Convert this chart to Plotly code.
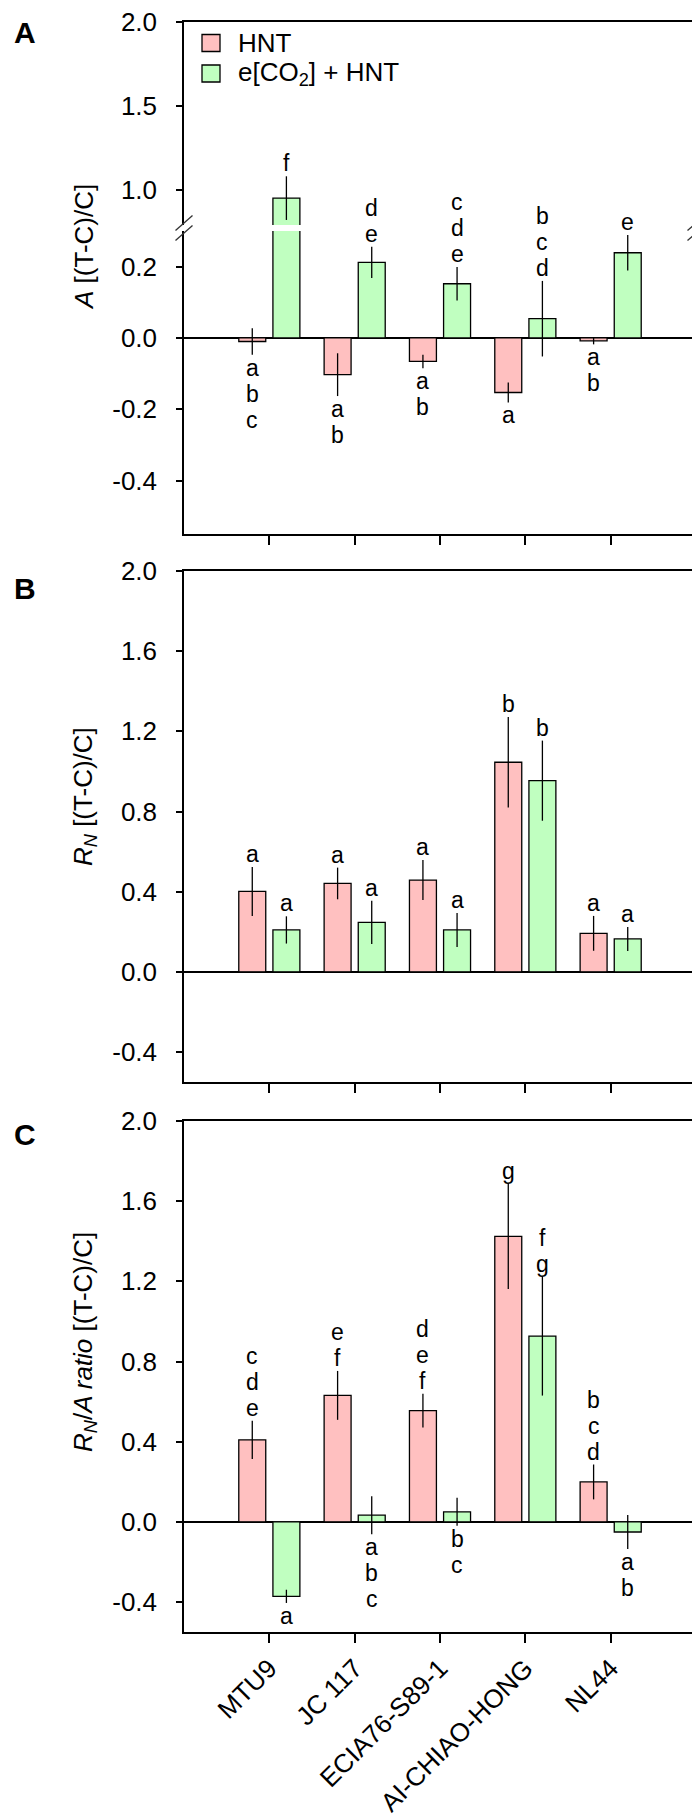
import numpy as np
import plotly.graph_objects as go

# ---------------- data ----------------
cultivars = ["MTU9", "JC 117", "ECIA76-S89-1", "AI-CHIAO-HONG", "NL44"]
series_names = ["HNT", "e[CO<sub>2</sub>] + HNT"]
series_colors = ["#FFC0C0", "#C0FFC0"]

# Panel A : A [(T-C)/C]
a_hnt = [-0.010, -0.103, -0.066, -0.153, -0.008]
a_hnt_err = [0.037, 0.060, 0.019, 0.028, 0.010]
a_co2 = [0.952, 0.212, 0.152, 0.054, 0.239]
a_co2_err = [0.130, 0.044, 0.047, 0.106, 0.050]
a_hnt_letters = ["abc", "ab", "ab", "a", "ab"]
a_co2_letters = ["f", "de", "cde", "bcd", "e"]
a_hnt_sides = ["below", "below", "below", "below", "below"]
a_co2_sides = ["above", "above", "above", "above", "above"]

# Panel B : RN [(T-C)/C]
b_hnt = [0.401, 0.441, 0.458, 1.046, 0.192]
b_hnt_err = [0.122, 0.079, 0.100, 0.226, 0.087]
b_co2 = [0.209, 0.247, 0.209, 0.954, 0.164]
b_co2_err = [0.068, 0.108, 0.085, 0.200, 0.060]
b_hnt_letters = ["a", "a", "a", "b", "a"]
b_co2_letters = ["a", "a", "a", "b", "a"]
b_hnt_sides = ["above"] * 5
b_co2_sides = ["above"] * 5

# Panel C : RN/A ratio [(T-C)/C]
c_hnt = [0.409, 0.631, 0.555, 1.425, 0.199]
c_hnt_err = [0.096, 0.122, 0.084, 0.263, 0.087]
c_co2 = [-0.372, 0.033, 0.050, 0.927, -0.051]
c_co2_err = [0.033, 0.095, 0.070, 0.297, 0.085]
c_hnt_letters = ["cde", "ef", "def", "g", "bcd"]
c_co2_letters = ["a", "abc", "bc", "fg", "ab"]
c_hnt_sides = ["above"] * 5
c_co2_sides = ["below", "below", "below", "above", "below"]

# tick values / labels
a_up_ticks = [1.0, 1.5, 2.0]
a_up_ticktext = ["1.0", "1.5", "2.0"]
a_lo_ticks = [-0.4, -0.2, 0.0, 0.2]
a_lo_ticktext = ["-0.4", "-0.2", "0.0", "0.2"]
bc_ticks = [-0.4, 0.0, 0.4, 0.8, 1.2, 1.6, 2.0]
bc_ticktext = ["-0.4", "0.0", "0.4", "0.8", "1.2", "1.6", "2.0"]

axis_titles = [
    "<i>A</i> [(T-C)/C]",
    "<i>R<sub>N</sub></i> [(T-C)/C]",
    "<i>R<sub>N</sub></i>/<i>A ratio</i> [(T-C)/C]",
]
panel_labels = ["A", "B", "C"]

# ---------------- layout geometry (pixels) ----------------
W, H = 700, 1817
FONT = "Liberation Sans, Arial, sans-serif"
FS = 26
LETTER_FS = 23
LETTER_STEP = 26
LETTER_GAP = 13


def fx(p):
    return p / W


def fy(p):
    return 1 - p / H


X0, X1 = 176, 688
xdom = [fx(X0), fx(X1)]
dom_px = {
    "a_up": (14, 217),
    "a_lo": (223, 526),
    "b": (563, 1074),
    "c": (1113, 1624),
}


def ydom(key):
    top, bot = dom_px[key]
    return [fy(bot), fy(top)]


x_pos = np.arange(len(cultivars))
BARGAP = 0.2
OFFSET = (1 - BARGAP) / 4.0

fig = go.Figure()


def add_bars(hnt, hnt_err, co2, co2_err, xa, ya):
    for vals, errs, color, name in [
        (hnt, hnt_err, series_colors[0], series_names[0]),
        (co2, co2_err, series_colors[1], series_names[1]),
    ]:
        fig.add_trace(
            go.Bar(
                x=x_pos,
                y=vals,
                name=name,
                marker=dict(color=color, line=dict(color="black", width=1.3)),
                error_y=dict(
                    type="data",
                    array=errs,
                    visible=True,
                    color="black",
                    thickness=1.3,
                    width=0,
                ),
                xaxis=xa,
                yaxis=ya,
                showlegend=False,
                hoverinfo="skip",
            )
        )


add_bars(a_hnt, a_hnt_err, a_co2, a_co2_err, "x", "y")
add_bars(a_hnt, a_hnt_err, a_co2, a_co2_err, "x2", "y2")
add_bars(b_hnt, b_hnt_err, b_co2, b_co2_err, "x3", "y3")
add_bars(c_hnt, c_hnt_err, c_co2, c_co2_err, "x4", "y4")

annotations = []


def add_letters(vals, errs, letters, sides, offset, refs):
    for i, (v, e, lt, s) in enumerate(zip(vals, errs, letters, sides)):
        if s == "above":
            yend = v + e
            chars = list(reversed(lt))
            sign = 1
        else:
            yend = v - e
            chars = list(lt)
            sign = -1
        xr, yr = refs(yend)
        for k, ch in enumerate(chars):
            annotations.append(
                dict(
                    x=x_pos[i] + offset,
                    y=yend,
                    xref=xr,
                    yref=yr,
                    text=ch,
                    showarrow=False,
                    xanchor="center",
                    yanchor="middle",
                    yshift=sign * (LETTER_GAP + LETTER_STEP * k),
                    font=dict(size=LETTER_FS, color="black", family=FONT),
                )
            )


def refs_a(y):
    return ("x", "y") if y > 0.5 else ("x2", "y2")


add_letters(a_hnt, a_hnt_err, a_hnt_letters, a_hnt_sides, -OFFSET, refs_a)
add_letters(a_co2, a_co2_err, a_co2_letters, a_co2_sides, OFFSET, refs_a)
add_letters(b_hnt, b_hnt_err, b_hnt_letters, b_hnt_sides, -OFFSET, lambda y: ("x3", "y3"))
add_letters(b_co2, b_co2_err, b_co2_letters, b_co2_sides, OFFSET, lambda y: ("x3", "y3"))
add_letters(c_hnt, c_hnt_err, c_hnt_letters, c_hnt_sides, -OFFSET, lambda y: ("x4", "y4"))
add_letters(c_co2, c_co2_err, c_co2_letters, c_co2_sides, OFFSET, lambda y: ("x4", "y4"))

# axis titles
for txt, yc in zip(axis_titles, [239, 789, 1334]):
    annotations.append(
        dict(
            x=fx(76), y=fy(yc), xref="paper", yref="paper", text=txt,
            textangle=-90, showarrow=False, xanchor="center", yanchor="middle",
            font=dict(size=FS, color="black", family=FONT),
        )
    )

# panel labels
for lab, yc in zip(panel_labels, [24, 580, 1126]):
    annotations.append(
        dict(
            x=fx(17), y=fy(yc), xref="paper", yref="paper", text="<b>%s</b>" % lab,
            showarrow=False, xanchor="center", yanchor="middle",
            font=dict(size=30, color="black", family=FONT),
        )
    )

# legend (manual)
shapes = []
for k, (name, color) in enumerate(zip(series_names, series_colors)):
    yc = 35 + 30.5 * k
    shapes.append(
        dict(
            type="rect", xref="paper", yref="paper",
            x0=fx(194), x1=fx(212), y0=fy(yc + 8.5), y1=fy(yc - 8.5),
            fillcolor=color, line=dict(color="black", width=1.3),
        )
    )
    annotations.append(
        dict(
            x=fx(228), y=fy(yc), xref="paper", yref="paper", text=name,
            showarrow=False, xanchor="left", yanchor="middle",
            font=dict(size=FS, color="black", family=FONT),
        )
    )

# axis break marks
for xc in [X0, X1]:
    for yc in [215, 225]:
        shapes.append(
            dict(
                type="line", xref="paper", yref="paper",
                x0=fx(xc - 8.5), x1=fx(xc + 8.5), y0=fy(yc + 7.5), y1=fy(yc - 7.5),
                line=dict(color="#333333", width=1.3),
            )
        )

LW = 1.5
common_x = dict(
    domain=xdom, range=[-1, 5], showgrid=False, zeroline=False,
    showline=True, linecolor="black", linewidth=LW, fixedrange=True,
)
common_y = dict(
    showgrid=False, showline=True, linecolor="black", linewidth=LW,
    mirror=True, ticks="outside", ticklen=6, tickwidth=LW, tickcolor="black",
    tickfont=dict(size=FS, color="black", family=FONT), ticklabelstandoff=14,
    ticklabeloverflow="allow",
)

fig.update_layout(
    width=W, height=H,
    margin=dict(l=0, r=0, t=0, b=0, autoexpand=False),
    paper_bgcolor="white", plot_bgcolor="white",
    barmode="group", bargap=BARGAP, bargroupgap=0.21,
    font=dict(family=FONT, size=FS, color="black"),
    showlegend=False,
    xaxis=dict(common_x, anchor="y", side="top", ticks="", showticklabels=False),
    yaxis=dict(common_y, domain=ydom("a_up"), anchor="x", range=[0.792, 2.0005],
               tickvals=a_up_ticks, ticktext=a_up_ticktext, zeroline=False),
    xaxis2=dict(common_x, anchor="y2", side="bottom", ticks="outside", ticklen=9,
                tickwidth=LW, tickcolor="black", tickvals=list(x_pos), showticklabels=False),
    yaxis2=dict(common_y, domain=ydom("a_lo"), anchor="x2", range=[-0.55, 0.30],
                tickvals=a_lo_ticks, ticktext=a_lo_ticktext, zeroline=True,
                zerolinecolor="black", zerolinewidth=LW),
    xaxis3=dict(common_x, anchor="y3", mirror=True, ticks="outside", ticklen=9,
                tickwidth=LW, tickcolor="black", tickvals=list(x_pos), showticklabels=False),
    yaxis3=dict(common_y, domain=ydom("b"), anchor="x3", range=[-0.55, 2.0005],
                tickvals=bc_ticks, ticktext=bc_ticktext, zeroline=True,
                zerolinecolor="black", zerolinewidth=LW),
    xaxis4=dict(common_x, anchor="y4", mirror=True, ticks="outside", ticklen=9,
                tickwidth=LW, tickcolor="black", tickvals=list(x_pos), ticktext=cultivars,
                tickangle=-45, ticklabeloverflow="allow",
                tickfont=dict(size=FS, color="black", family=FONT)),
    yaxis4=dict(common_y, domain=ydom("c"), anchor="x4", range=[-0.55, 2.0005],
                tickvals=bc_ticks, ticktext=bc_ticktext, zeroline=True,
                zerolinecolor="black", zerolinewidth=LW),
    annotations=annotations,
    shapes=shapes,
)

fig.write_html("out.html")
